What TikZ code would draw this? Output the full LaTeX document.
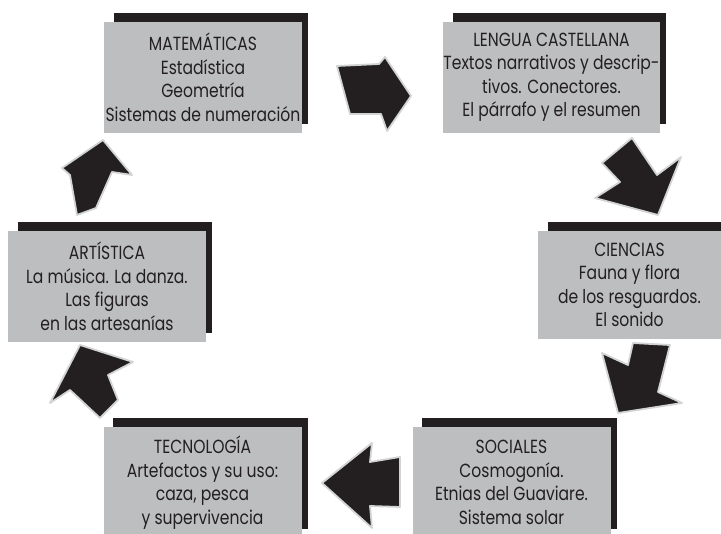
\documentclass[tikz,border=0pt]{standalone}
\usepackage{fontspec}
\setmainfont[FakeStretch=0.82]{Poppins}
\usepackage{tikz}
\usetikzlibrary{positioning, calc, backgrounds}
\definecolor{boxgray}{HTML}{BCBEC0}
\definecolor{ink}{HTML}{231F20}
\definecolor{rim}{HTML}{D1D3D4}
\begin{document}
\begin{tikzpicture}[x=1pt, y=-1pt,
  area/.style={fill=boxgray, minimum width=198pt, minimum height=111pt, inner sep=0pt, align=center, text=ink, font=\fontsize{19}{23.5}\selectfont},
  shadow/.style={fill=ink},
  fat/.style={fill=ink, draw=rim, line width=1.8pt, line join=round}]
  \useasboundingbox (0,0) rectangle (721,534);

  \node[area] (mat) at (203,77.5) {MATEMÁTICAS\\Estadística\\Geometría\\Sistemas de numeración};
  \node[area] (len) at (551.5,77.5) {LENGUA CASTELLANA\\Textos narrativos y descrip-\\tivos. Conectores.\\El párrafo y el resumen};
  \node[area, minimum width=183pt, minimum height=108pt] (cie) at (629.5,285) {CIENCIAS\\Fauna y flora\\de los resguardos.\\El sonido};
  \node[area] (soc) at (511.5,482.5) {SOCIALES\\Cosmogonía.\\Etnias del Guaviare.\\Sistema solar};
  \node[area] (tec) at (202.5,482.5) {TECNOLOGÍA\\Artefactos y su uso:\\caza, pesca\\y supervivencia};
  \node[area] (art) at (107,286.5) {ARTÍSTICA\\La música. La danza.\\Las figuras\\en las artesanías};

  \begin{pgfonlayer}{background}
    \foreach \b in {mat, len, cie, soc, tec, art}
      \fill[shadow] ($(\b.north west)+(10,-9)$) rectangle ($(\b.south east)+(6,-9)$);
  \end{pgfonlayer}

  \filldraw[fat] (337,66) -- (379,64) -- (385,57) -- (411,96) -- (387,131) -- (381,114) -- (350,114) -- cycle;
  \filldraw[fat] (632,138) -- (657,175) -- (681,157) -- (658,215) -- (595,198) -- (620,182) -- (602,163) -- cycle;
  \filldraw[fat] (633,343) -- (670,345) -- (658,392) -- (682,403) -- (618,413) -- (602,353) -- (628,365) -- cycle;
  \filldraw[fat] (322,483) -- (372,443) -- (370,462) -- (400,457) -- (400,507) -- (370,506) -- (372,528) -- cycle;
  \filldraw[fat] (80,345) -- (133,362) -- (108,375) -- (118,400) -- (100,418) -- (70,390) -- (50,403) -- cycle;
  \filldraw[fat] (103,140) -- (132,175) -- (112,172) -- (96,208) -- (77,215) -- (70,175) -- (62,168) -- cycle;
\end{tikzpicture}
\end{document}
